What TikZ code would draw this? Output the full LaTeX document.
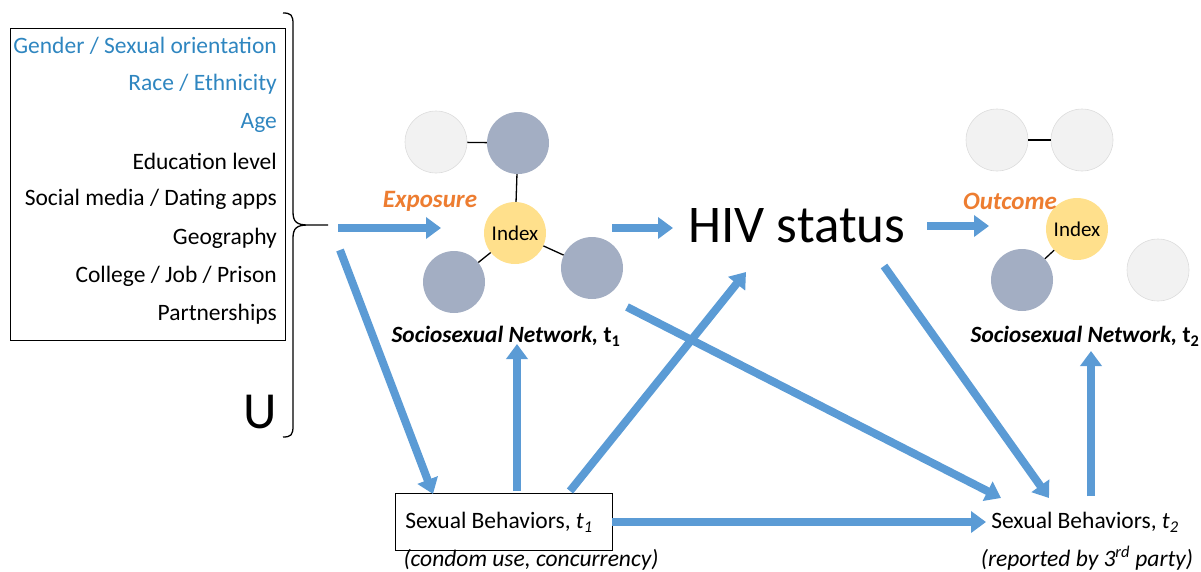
\documentclass[tikz,border=0pt]{standalone}
\usepackage{fontspec}
\setmainfont{Carlito}
\usetikzlibrary{arrows.meta}
\definecolor{arrowblue}{HTML}{5B9BD5}
\definecolor{listblue}{HTML}{2F86C0}
\definecolor{expo}{HTML}{ED7D31}
\definecolor{darknode}{HTML}{A3AEC3}
\definecolor{lightnode}{HTML}{F2F2F2}
\definecolor{lightedge}{HTML}{DCDCDC}
\definecolor{indexfill}{HTML}{FFE08C}
\tikzset{
  bigarrow/.style={draw=arrowblue, line width=8pt,
    -{Triangle[width=21pt,length=15pt]}},
  peer/.style={circle, minimum size=62pt, inner sep=0pt},
  darkpeer/.style={peer, fill=darknode},
  lightpeer/.style={peer, fill=lightnode, draw=lightedge, line width=0.6pt},
  indexpeer/.style={peer, fill=indexfill, font=\fontsize{21}{24}\selectfont},
  tie/.style={draw=black, line width=1.3pt},
  listitem/.style={anchor=east, inner sep=0pt, font=\fontsize{23.5}{28}\selectfont},
  netlabel/.style={inner sep=0pt, font=\fontsize{23.3}{28}\selectfont\bfseries\itshape},
  tag/.style={inner sep=0pt, text=expo, font=\fontsize{25}{28}\selectfont\bfseries\itshape},
  behav/.style={inner sep=0pt, font=\fontsize{23.5}{28}\selectfont},
}
\begin{document}
\begin{tikzpicture}[x=1pt, y=-1pt]
\useasboundingbox (0,0) rectangle (1201,571);

% list of covariates
\node[draw=black, line width=0.8pt, minimum width=275pt, minimum height=312pt,
      inner sep=0pt] (ubox) at (147.5,184) {};
\node[listitem, text=listblue] (u1) at (277,46) {Gender / Sexual orientation};
\node[listitem, text=listblue] (u2) at (277,84) {Race / Ethnicity};
\node[listitem, text=listblue] (u3) at (277,123) {Age};
\node[listitem] (u4) at (277,161) {Education level};
\node[listitem] (u5) at (277,199) {Social media / Dating apps};
\node[listitem] (u6) at (277,238) {Geography};
\node[listitem] (u7) at (277,276) {College / Job / Prison};
\node[listitem] (u8) at (277,314) {Partnerships};
\node[inner sep=0pt, font=\fontsize{52}{60}\selectfont] (U) at (260,412) {U};

% curly brace
\draw[line width=1.3pt] (283,13) .. controls (291,13) and (293,15) .. (293,24)
  -- (293,212) .. controls (293,222) and (297,225) .. (308,225) -- (328,225)
  (308,225) .. controls (297,225) and (293,228) .. (293,238)
  -- (293,426) .. controls (293,435) and (291,437) .. (283,437);
\coordinate (brace) at (328,225);

% sociosexual network at t1
\node[indexpeer] (i1) at (515,233) {Index};
\node[lightpeer] (a1) at (436,142) {};
\node[darkpeer]  (b1) at (518,143) {};
\node[darkpeer]  (c1) at (454,282) {};
\node[darkpeer]  (d1) at (592,268) {};
\draw[tie] (a1) -- (b1);
\draw[tie] (b1) -- (i1);
\draw[tie] (i1) -- (c1);
\draw[tie] (i1) -- (d1);
\node[tag] (expo) at (430,201) {Exposure};
\node[netlabel] (net1) at (506,336) {Sociosexual Network, \upshape t\textsubscript{1}};

% HIV status
\node[inner sep=0pt, font=\fontsize{53}{60}\selectfont] (hiv) at (797,226) {HIV status};

% sociosexual network at t2
\node[indexpeer] (i2) at (1077,229) {Index};
\node[lightpeer] (a2) at (997,140) {};
\node[lightpeer] (b2) at (1082,140) {};
\node[darkpeer]  (c2) at (1022,280) {};
\node[lightpeer] (d2) at (1158,270) {};
\draw[tie] (a2) -- (b2);
\draw[tie] (i2) -- (c2);
\node[tag] (outc) at (1010,201) {Outcome};
\node[netlabel] (net2) at (1085,336) {Sociosexual Network, \upshape t\textsubscript{2}};

% sexual behaviours
\node[draw=black, line width=0.8pt, minimum width=217pt, minimum height=57pt,
      inner sep=0pt] (sb1) at (503.5,521.5) {};
\node[behav] (sb1t) at (499,522) {Sexual Behaviors, \textit{t\textsubscript{1}}};
\node[behav, font=\fontsize{23.5}{28}\selectfont\itshape] (sb1n) at (531,560)
  {(condom use, concurrency)};
\node[behav] (sb2) at (1085,522) {Sexual Behaviors, \textit{t\textsubscript{2}}};
\node[behav, font=\fontsize{23.5}{28}\selectfont\itshape] (sb2n) at (1087,558)
  {(reported by 3\textsuperscript{rd} party)};

% arrow end points
\coordinate (expS) at (338,228);
\coordinate (expE) at (441,228);
\coordinate (sbS)  at (340,250);
\coordinate (sbE)  at (433,494);
\coordinate (hivS) at (612,228);
\coordinate (hivE) at (673,228);
\coordinate (outS) at (927,226);
\coordinate (outE) at (989,226);
\coordinate (upS)  at (517,491);
\coordinate (upE)  at (517,344);
\coordinate (diS)  at (570,491);
\coordinate (diE)  at (746,272);
\coordinate (crS)  at (627,307);
\coordinate (crE)  at (1001,498);
\coordinate (dnS)  at (884,266);
\coordinate (dnE)  at (1049,498);
\coordinate (hzS)  at (612,522);
\coordinate (hzE)  at (986,522);
\coordinate (up2S) at (1091,496);
\coordinate (up2E) at (1091,351);

% causal arrows
\draw[bigarrow] (expS) -- (expE);
\draw[bigarrow] (sbS) -- (sbE);
\draw[bigarrow] (hivS) -- (hivE);
\draw[bigarrow] (outS) -- (outE);
\draw[bigarrow] (upS) -- (upE);
\draw[bigarrow] (diS) -- (diE);
\draw[bigarrow] (crS) -- (crE);
\draw[bigarrow] (dnS) -- (dnE);
\draw[bigarrow] (hzS) -- (hzE);
\draw[bigarrow] (up2S) -- (up2E);
\end{tikzpicture}
\end{document}
